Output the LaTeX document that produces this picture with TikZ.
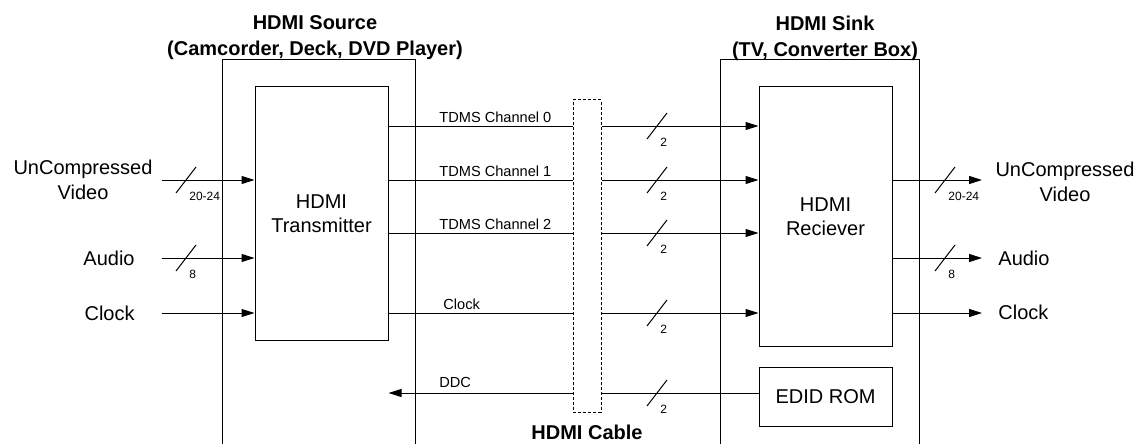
\documentclass[tikz,border=0pt]{standalone}
\usepackage{fontspec}
\setmainfont{Liberation Sans}
\usetikzlibrary{arrows.meta}

\tikzset{
    wire/.style={line width=0.5pt},
    sig/.style={wire, -{Triangle[length=6.5pt,width=4pt]}},
    blk/.style={draw, wire, align=center, font=\fontsize{10}{12}\selectfont},
    chlab/.style={anchor=west, inner sep=0pt, font=\fontsize{7.3}{8}\selectfont},
    iolab/.style={align=center, inner sep=0pt, font=\fontsize{10}{12.5}\selectfont},
    ttl/.style={align=center, inner sep=0pt, font=\bfseries\fontsize{10}{13}\selectfont},
    pics/bus/.style={code={
        \draw[wire] (-10,13) -- (10,-13);
        \node[anchor=north west, inner sep=0pt, font=\fontsize{6}{7}\selectfont] (-n) at (3,12) {#1};
    }},
}

\begin{document}
\begin{tikzpicture}[x=0.5pt, y=-0.5pt]
    \useasboundingbox (0,0) rectangle (1144,444);
    % housings, open at the bottom
    \draw[wire] (222,444) -- (222,60) -- (415,60) -- (415,444);
    \draw[wire] (720,444) -- (720,60) -- (919,60) -- (919,444);
    \node[ttl] (srct) at (315,38) {HDMI Source\\(Camcorder, Deck, DVD Player)};
    \node[ttl] (sinkt) at (825,38) {HDMI Sink\\(TV, Converter Box)};

    \node[blk, minimum width=66.5pt, minimum height=126.5pt] (tx) at (321.5,213.5) {HDMI\\Transmitter};
    \node[blk, minimum width=66.5pt, minimum height=129.5pt] (rx) at (825.5,216.5) {HDMI\\Reciever};
    \node[blk, minimum width=66.5pt, minimum height=29.5pt] (edid) at (825.5,396.5) {EDID ROM};
    \node[draw, wire, dash pattern=on 1.5pt off 1pt, inner sep=0pt,
          minimum width=14pt, minimum height=156pt] (cable) at (587,256) {};
    \node[ttl] (cablet) at (587,432) {HDMI Cable};

    % cable channels
    \coordinate (bx) at (657,0);
    \foreach \r/\y/\lx/\t in {r0/126/439/TDMS Channel 0, r1/180/439/TDMS Channel 1,
                              r2/233/439/TDMS Channel 2, rc/313/443/Clock}{
        \coordinate (\r) at (0,\y);
        \draw[wire] (tx.east |- \r) -- (cable.west |- \r);
        \draw[sig] (cable.east |- \r) -- (rx.west |- \r);
        \path (bx |- \r) pic (b\r) {bus=2};
        \node[chlab] (l\r) at (\lx,\y-9) {\t};
    }
    \coordinate (rd) at (0,393);
    \draw[wire] (edid.west |- rd) -- (cable.east |- rd);
    \draw[sig] (cable.west |- rd) -- (tx.east |- rd);
    \path (bx |- rd) pic (brd) {bus=2};
    \node[chlab] (lrd) at (439,382) {DDC};

    % inputs and outputs
    \coordinate (vrow) at (0,180);
    \coordinate (arow) at (0,258);
    \coordinate (crow) at (0,313);
    \coordinate (inx) at (162,0);
    \coordinate (ibx) at (186,0);
    \coordinate (outx) at (982,0);
    \coordinate (obx) at (945,0);

    \node[iolab] (vin) at (83,180) {UnCompressed\\Video};
    \node[iolab, anchor=east] (ain) at (135,258) {Audio};
    \node[iolab, anchor=east] (cin) at (135,313) {Clock};
    \draw[sig] (inx |- vrow) -- (tx.west |- vrow);
    \draw[sig] (inx |- arow) -- (tx.west |- arow);
    \draw[sig] (inx |- crow) -- (tx.west |- crow);
    \path (ibx |- vrow) pic (bvin) {bus=20-24};
    \path (ibx |- arow) pic (bain) {bus=8};

    \node[iolab] (vout) at (1065,182) {UnCompressed\\Video};
    \node[iolab, anchor=west] (aout) at (998,258) {Audio};
    \node[iolab, anchor=west] (cout) at (998,312) {Clock};
    \draw[sig] (rx.east |- vrow) -- (outx |- vrow);
    \draw[sig] (rx.east |- arow) -- (outx |- arow);
    \draw[sig] (rx.east |- crow) -- (outx |- crow);
    \path (obx |- vrow) pic (bvout) {bus=20-24};
    \path (obx |- arow) pic (baout) {bus=8};
\end{tikzpicture}
\end{document}
